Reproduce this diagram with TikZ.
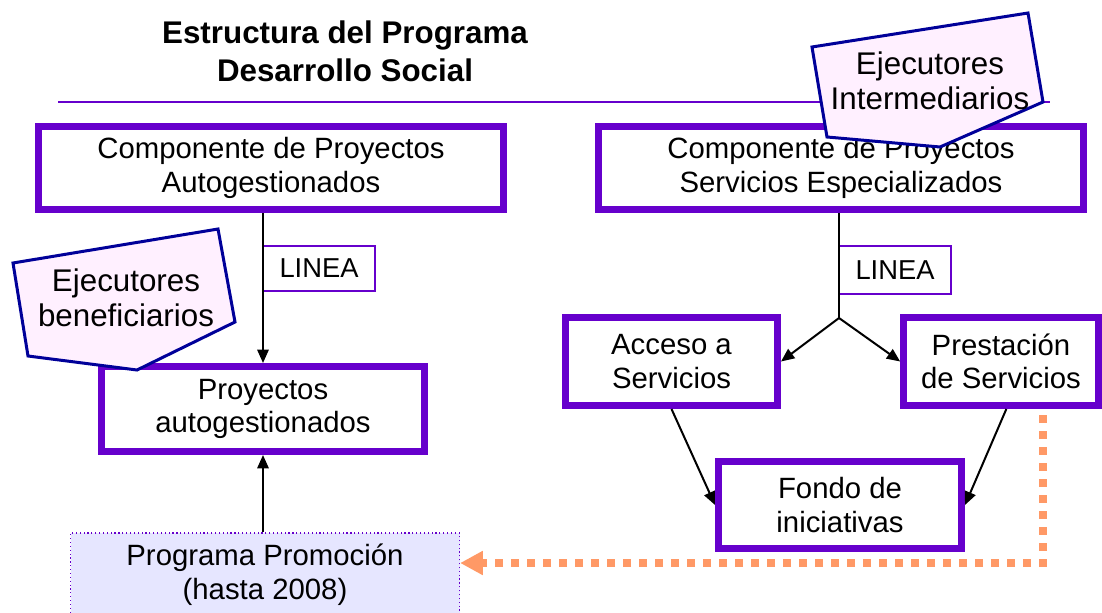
\documentclass[tikz,border=0pt]{standalone}
\usepackage{fontspec}
\setmainfont{Liberation Sans}
\usetikzlibrary{positioning,arrows.meta,calc}
\definecolor{boxcolor}{RGB}{102,0,204}
\definecolor{calloutline}{RGB}{0,0,153}
\definecolor{calloutfill}{RGB}{255,240,255}
\definecolor{promofill}{RGB}{230,230,255}
\definecolor{feedcolor}{RGB}{255,153,102}

\begin{document}
\begin{tikzpicture}[x=0.75pt,y=-0.75pt,
    component/.style={rectangle, draw=boxcolor, line width=5.25pt, fill=white, align=center, inner sep=2pt, font=\fontsize{22}{25}\selectfont},
    linea/.style={rectangle, draw=boxcolor, line width=1pt, fill=white, minimum width=84pt, font=\fontsize{20.5}{23}\selectfont},
    promo/.style={rectangle, draw=boxcolor, dotted, line width=0.9pt, fill=promofill, align=center, font=\fontsize{22}{25.5}\selectfont},
    callout/.style={draw=calloutline, line width=2.25pt, fill=calloutfill, line join=miter},
    callouttext/.style={align=center, font=\fontsize{23.5}{26.5}\selectfont},
    link/.style={-{Triangle[length=10pt,width=8.5pt]}, line width=1.5pt},
    feedback/.style={-{Triangle[length=17pt,width=17pt]}, draw=feedcolor, line width=6pt, dash pattern=on 6pt off 6pt}
]
\useasboundingbox (0,0) rectangle (1102,613);

% title and rule
\node[align=center, font=\bfseries\fontsize{23.5}{28.5}\selectfont] (title) at (345,51) {Estructura del Programa\\Desarrollo Social};
\draw[boxcolor, line width=1.5pt] (58,102) -- (1050,102);

% components
\node[component, minimum width=348.75pt, minimum height=62.25pt] (compauto) at (271,168) {Componente de Proyectos\\Autogestionados};
\node[component, minimum width=363.75pt, minimum height=62.25pt] (compserv) at (841,168) {Componente de Proyectos\\Servicios Especializados};

% callout right
\draw[callout] (812,47) -- (1028,13) -- (1043,102) -- (940,147) -- (827,137) -- cycle;
\node[callouttext] (ejecint) at (930,81) {Ejecutores\\Intermediarios};

% lower boxes
\node[component, minimum width=242.25pt, minimum height=63.75pt] (proy) at (263,409) {Proyectos\\autogestionados};
\node[component, minimum width=159pt, minimum height=66pt] (acceso) at (671.5,361.5) {Acceso a\\Servicios};
\node[component, minimum width=146pt, minimum height=66pt] (prest) at (1001,361.5) {Prestación\\de Servicios};
\node[component, minimum width=182.25pt, minimum height=65.25pt] (fondo) at (840,505) {Fondo de\\iniciativas};
\node[promo, minimum width=291.75pt, minimum height=62.25pt] (prom) at (265,574.5) {Programa Promoción\\(hasta 2008)};

% LINEA labels
\node[linea, minimum height=33.75pt] (lineaauto) at (319,268.5) {LINEA};
\node[linea, minimum height=36pt] (lineaserv) at (895,270) {LINEA};

% connectors
\coordinate (fork) at (839,318);
\draw[link] (proy.north |- compauto.south) -- (proy.north);
\draw[link] (prom.north -| proy.north) -- (proy.south);
\draw[line width=1.5pt] (compserv.south -| fork) -- (fork);
\draw[link] (fork) -- (acceso.east);
\draw[link] (fork) -- (prest.west);
\draw[link] (acceso.south) -- (fondo.west);
\draw[link] ([xshift=4pt]prest.south) -- (fondo.east);

% callout left
\draw[callout] (13,263) -- (218,229) -- (235,322) -- (137,370) -- (28,356) -- cycle;
\node[callouttext] (ejecben) at (126,298) {Ejecutores\\beneficiarios};

% feedback to Promocion
\coordinate (feedstart) at (1043,415);
\coordinate (feedturn) at (1043,563);
\draw[feedback] (feedstart) -- (feedturn) -- (feedturn -| prom.east);
\end{tikzpicture}
\end{document}
